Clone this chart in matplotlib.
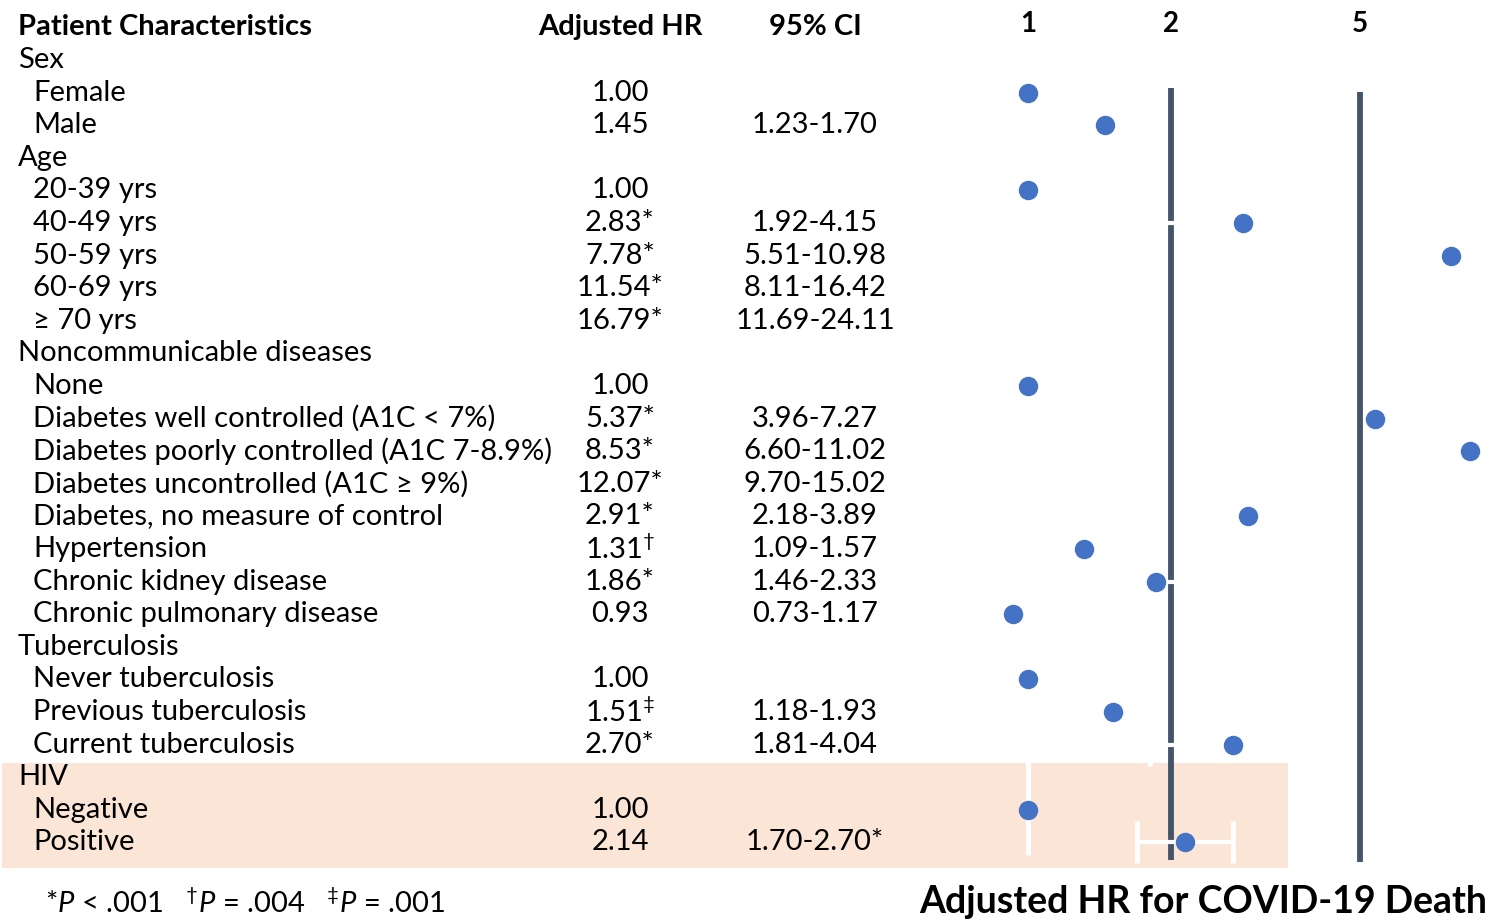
import matplotlib
matplotlib.use("Agg")
import matplotlib.pyplot as plt
from matplotlib.patches import Rectangle
from matplotlib.ticker import NullLocator
import numpy as np

plt.rcParams["font.family"] = ["Lato", "DejaVu Sans"]
plt.rcParams["mathtext.fontset"] = "custom"
plt.rcParams["mathtext.rm"] = "Lato"
plt.rcParams["mathtext.it"] = "Lato:italic"
plt.rcParams["mathtext.bf"] = "Lato:bold"

# ---------------------------------------------------------------------------
# Table rows, top to bottom (None = group heading / no estimate)
# ---------------------------------------------------------------------------
labels = [
    "Sex", "Female", "Male",
    "Age", "20-39 yrs", "40-49 yrs", "50-59 yrs", "60-69 yrs", "\u2265 70 yrs",
    "Noncommunicable diseases", "None", "Diabetes well controlled (A1C < 7%)",
    "Diabetes poorly controlled (A1C 7-8.9%)",
    "Diabetes uncontrolled (A1C \u2265 9%)", "Diabetes, no measure of control",
    "Hypertension", "Chronic kidney disease", "Chronic pulmonary disease",
    "Tuberculosis", "Never tuberculosis", "Previous tuberculosis",
    "Current tuberculosis",
    "HIV", "Negative", "Positive",
]
is_group = [
    True, False, False,
    True, False, False, False, False, False,
    True, False, False, False, False, False, False, False, False,
    True, False, False, False,
    True, False, False,
]
hr = [
    None, 1.00, 1.45,
    None, 1.00, 2.83, 7.78, 11.54, 16.79,
    None, 1.00, 5.37, 8.53, 12.07, 2.91, 1.31, 1.86, 0.93,
    None, 1.00, 1.51, 2.70,
    None, 1.00, 2.14,
]
hr_flag = [
    "", "", "",
    "", "", "*", "*", "*", "*",
    "", "", "*", "*", "*", "*", r"$^{\dagger}$", "*", "",
    "", "", r"$^{\ddagger}$", "*",
    "", "", "",
]
ci_lo = [
    None, None, 1.23,
    None, None, 1.92, 5.51, 8.11, 11.69,
    None, None, 3.96, 6.60, 9.70, 2.18, 1.09, 1.46, 0.73,
    None, None, 1.18, 1.81,
    None, None, 1.70,
]
ci_hi = [
    None, None, 1.70,
    None, None, 4.15, 10.98, 16.42, 24.11,
    None, None, 7.27, 11.02, 15.02, 3.89, 1.57, 2.33, 1.17,
    None, None, 1.93, 4.04,
    None, None, 2.70,
]
ci_flag = [""] * 24 + ["*"]
highlight_group = "HIV"
tick_vals = [1, 2, 5]

W, H = 1494, 922
ROW0, PITCH = 60, 32.6
FS = 21
DARK = "#44546A"
BLUE = "#4472C4"
PEACH = "#FBE5D6"

fig = plt.figure(figsize=(W / 100, H / 100), dpi=100)

# full-figure axes in pixel units for the table text and shading
tab = fig.add_axes([0, 0, 1, 1])
tab.set_xlim(0, W)
tab.set_ylim(H, 0)
tab.axis("off")

ys = ROW0 + PITCH * np.arange(len(labels))

# shaded HIV block
i0 = labels.index(highlight_group)
top = ys[i0] - 14
tab.add_patch(Rectangle((2, top), 1286, ys[-1] + 26 - top,
                        facecolor=PEACH, edgecolor="none", zorder=0))

# column headers
tab.text(18, 27, "Patient Characteristics", fontsize=FS, fontweight="bold",
         va="center", ha="left")
tab.text(620, 27, "Adjusted HR", fontsize=FS, fontweight="bold",
         va="center", ha="center")
tab.text(815, 27, "95% CI", fontsize=FS, fontweight="bold",
         va="center", ha="center")

for y, lab, grp, h, hf, lo, hi, cf in zip(ys, labels, is_group, hr, hr_flag,
                                          ci_lo, ci_hi, ci_flag):
    tab.text(18 if grp else 33, y, lab, fontsize=FS, va="center", ha="left")
    if h is not None:
        tab.text(620, y, f"{h:.2f}{hf}", fontsize=FS, va="center", ha="center")
    if lo is not None:
        tab.text(815, y, f"{lo:.2f}-{hi:.2f}{cf}", fontsize=FS,
                 va="center", ha="center")

tab.text(45, 903, r"*$\mathit{P}$ < .001   $^{\dagger}\mathit{P}$ = .004   "
         r"$^{\ddagger}\mathit{P}$ = .001", fontsize=FS, va="center", ha="left")
tab.text(1203, 902, "Adjusted HR for COVID-19 Death", fontsize=27,
         fontweight="bold", va="center", ha="center")

# ---------------------------------------------------------------------------
# Forest panel on a log scale
# ---------------------------------------------------------------------------
ax = fig.add_axes([1000 / W, 0, 494 / W, 1])
ax.set_facecolor("none")
ax.set_xscale("log")
ax.set_xlim(10 ** (-28 / 475), 10 ** (466 / 475))
ax.set_ylim(H, 0)
for s in ax.spines.values():
    s.set_visible(False)

ax.vlines(1, 88, 855, color="white", lw=3.5, zorder=2)
ax.vlines(2, 88, 860, color=DARK, lw=4.2, zorder=2)
ax.vlines(5, 92, 862, color=DARK, lw=4.2, zorder=3.5)

est = np.array([np.nan if v is None else v for v in hr])
lo_arr = np.array([np.nan if v is None else v for v in ci_lo])
hi_arr = np.array([np.nan if v is None else v for v in ci_hi])
has_ci = ~np.isnan(lo_arr)
ax.errorbar(est[has_ci], ys[has_ci],
            xerr=[est[has_ci] - lo_arr[has_ci], hi_arr[has_ci] - est[has_ci]],
            fmt="none", ecolor="white", elinewidth=3, capsize=15,
            capthick=3.5, zorder=3)

has_est = ~np.isnan(est)
ax.plot(est[has_est], ys[has_est], "o", color=BLUE, ms=14,
        markeredgecolor="none", zorder=4)

ax.set_xticks(tick_vals)
ax.set_xticklabels([str(v) for v in tick_vals], fontsize=20, fontweight="bold")
ax.xaxis.set_minor_locator(NullLocator())
ax.set_yticks([])
ax.tick_params(axis="x", which="both", length=0, top=True, labeltop=True,
               bottom=False, labelbottom=False, pad=-27)

fig.savefig("out.png", dpi=100)
